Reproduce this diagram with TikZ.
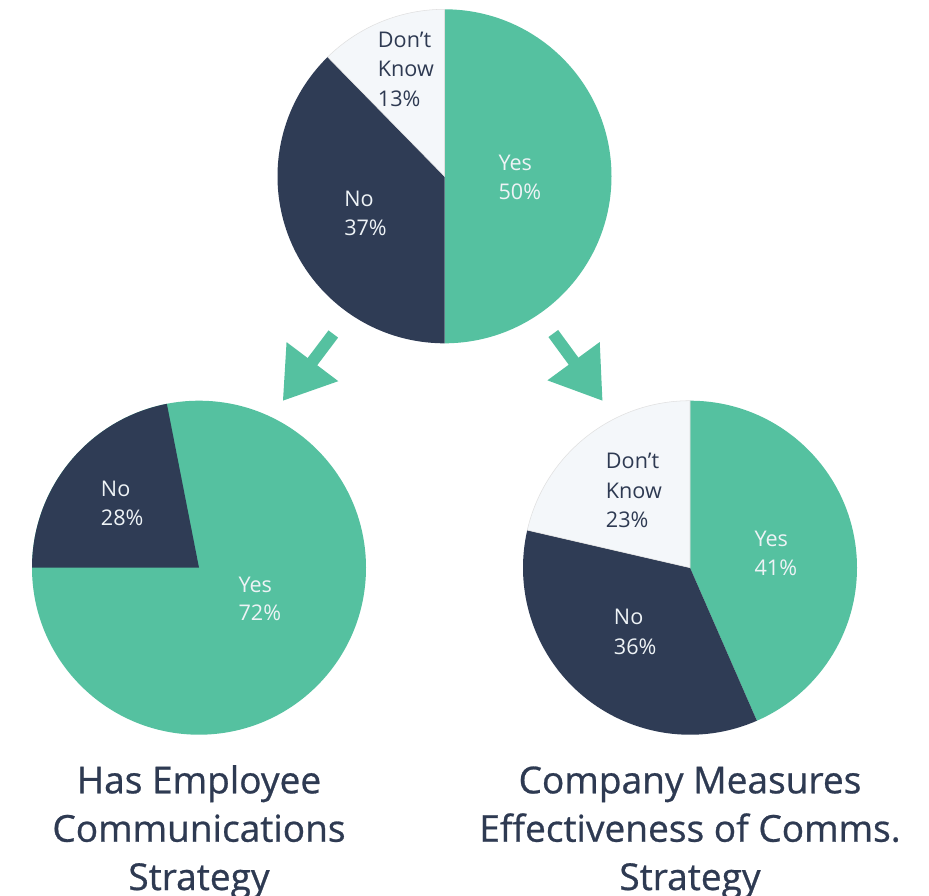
\documentclass[tikz,border=0pt]{standalone}
\usepackage{fontspec}
\setmainfont{Open Sans}
\newfontfamily\titlefont{Open Sans}[FakeBold=0.7]
\usetikzlibrary{arrows.meta}
\definecolor{pgreen}{HTML}{55C1A0}
\definecolor{pnavy}{HTML}{2F3C55}
\definecolor{plight}{HTML}{F4F7FA}
\definecolor{tnavy}{HTML}{2E3A52}
\definecolor{tlight}{HTML}{EEF3F6}
\begin{document}
\begin{tikzpicture}[x=0.75pt,y=0.75pt,
  lbl/.style={anchor=base west, inner sep=0pt, font=\fontsize{16.2}{20}\selectfont},
  onlight/.style={lbl, text=tnavy},
  ondark/.style={lbl, text=tlight},
  titletext/.style={anchor=base, inner sep=0pt, text=tnavy, font=\titlefont\fontsize{27.8}{36}\selectfont},
  bigarrow/.style={draw=pgreen, line width=9pt, -{Triangle[width=46pt,length=37pt]}},
  lightslice/.style={fill=plight, draw=black!12, line width=0.4pt}]
\useasboundingbox (0,0) rectangle (929,-896);
\fill[white] (0,0) rectangle (929,-896);

% top pie
\coordinate (t) at (444.5,-176.3);
\fill[pgreen] (t) -- ++(90:167) arc[start angle=90,end angle=-90,radius=167] -- cycle;
\fill[pnavy] (t) -- ++(-90:167) arc[start angle=-90,end angle=-225.6,radius=167] -- cycle;
\path[lightslice] (t) -- ++(134.4:167) arc[start angle=134.4,end angle=90,radius=167] -- cycle;

\node[onlight] (tdk1) at (377.7,-47.7) {Don’t};
\node[onlight] (tdk2) at (377.7,-76.7) {Know};
\node[onlight] (tdk3) at (377.7,-106.7) {13\%};
\node[ondark] (tyes1) at (498.3,-170) {Yes};
\node[ondark] (tyes2) at (498.3,-199.3) {50\%};
\node[ondark] (tno1) at (344,-206.7) {No};
\node[ondark] (tno2) at (344,-235.7) {37\%};

% arrows
\coordinate (la1) at (333.3,-334);
\coordinate (la2) at (282.7,-401);
\coordinate (ra1) at (553.3,-333.5);
\coordinate (ra2) at (602.7,-401);
\draw[bigarrow] (la1) -- (la2);
\draw[bigarrow] (ra1) -- (ra2);

% bottom-left pie
\coordinate (l) at (199,-567.7);
\fill[pgreen] (l) circle[radius=167];
\fill[pnavy] (l) -- ++(101.1:167) arc[start angle=101.1,end angle=180,radius=167] -- cycle;
\node[ondark] (lno1) at (100.7,-496.7) {No};
\node[ondark] (lno2) at (100.7,-525) {28\%};
\node[ondark] (lyes1) at (238.3,-592.3) {Yes};
\node[ondark] (lyes2) at (238.3,-620.7) {72\%};

% bottom-right pie
\coordinate (r) at (690,-567.7);
\fill[pgreen] (r) -- ++(90:167) arc[start angle=90,end angle=-66.4,radius=167] -- cycle;
\fill[pnavy] (r) -- ++(-66.4:167) arc[start angle=-66.4,end angle=-193,radius=167] -- cycle;
\path[lightslice] (r) -- ++(167:167) arc[start angle=167,end angle=90,radius=167] -- cycle;
\node[onlight] (rdk1) at (605.7,-468.7) {Don’t};
\node[onlight] (rdk2) at (605.7,-498.3) {Know};
\node[onlight] (rdk3) at (605.7,-527.3) {23\%};
\node[ondark] (ryes1) at (754.3,-546) {Yes};
\node[ondark] (ryes2) at (754.3,-575) {41\%};
\node[ondark] (rno1) at (613.7,-624.3) {No};
\node[ondark] (rno2) at (613.7,-654) {36\%};

% titles
\node[titletext] (lt1) at (199,-793.3) {Has Employee};
\node[titletext] (lt2) at (199,-841.7) {Communications};
\node[titletext] (lt3) at (199,-890) {Strategy};
\node[titletext] (rt1) at (690,-793.3) {Company Measures};
\node[titletext] (rt2) at (690,-841.7) {Effectiveness of Comms.};
\node[titletext] (rt3) at (690,-890) {Strategy};
\end{tikzpicture}
\end{document}
